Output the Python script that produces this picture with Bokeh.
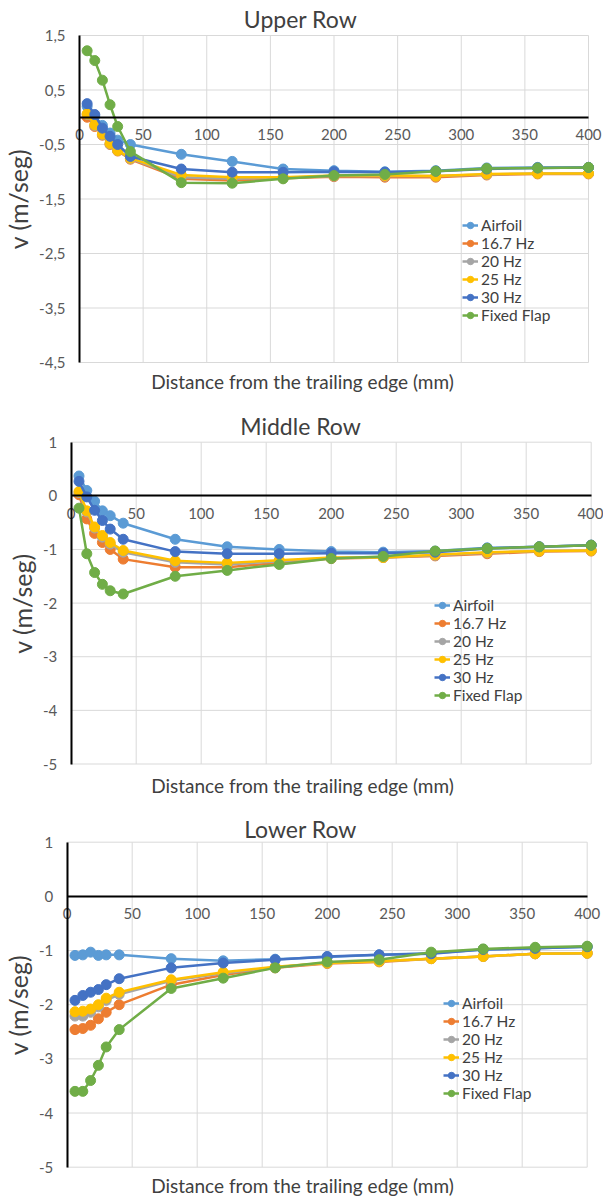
from bokeh.plotting import figure
from bokeh.layouts import column
from bokeh.models import (Range1d, LinearAxis, FixedTicker, Legend,
                          LegendItem, Label)
from bokeh.embed import file_html
from bokeh.resources import INLINE

# Distance from the trailing edge (mm)
distance = [6, 12, 18, 24, 30, 40, 80, 120, 160, 200, 240, 280, 320, 360, 400]

series_names = ["Airfoil", "16.7 Hz", "20 Hz", "25 Hz", "30 Hz", "Fixed Flap"]
series_colors = ["#5B9BD5", "#ED7D31", "#A5A5A5", "#FFC000", "#4472C4", "#70AD47"]

x_ticks = [0, 50, 100, 150, 200, 250, 300, 350, 400]

# Upper row, v (m/s)
upper_airfoil = [0.20, 0.02, -0.15, -0.29, -0.42, -0.50, -0.68, -0.81, -0.95, -0.98, -1.00, -0.98, -0.93, -0.92, -0.92]
upper_167hz = [0.00, -0.17, -0.33, -0.50, -0.62, -0.77, -1.13, -1.16, -1.12, -1.09, -1.10, -1.10, -1.06, -1.04, -1.04]
upper_20hz = [0.05, -0.15, -0.32, -0.49, -0.61, -0.76, -1.10, -1.13, -1.11, -1.08, -1.08, -1.08, -1.05, -1.03, -1.03]
upper_25hz = [0.06, -0.14, -0.31, -0.48, -0.61, -0.75, -1.06, -1.10, -1.10, -1.07, -1.07, -1.08, -1.04, -1.03, -1.03]
upper_30hz = [0.25, 0.05, -0.20, -0.35, -0.50, -0.72, -0.95, -1.01, -1.01, -1.00, -1.01, -0.99, -0.95, -0.93, -0.92]
upper_fixed = [1.22, 1.04, 0.68, 0.23, -0.17, -0.63, -1.20, -1.21, -1.13, -1.07, -1.05, -0.99, -0.94, -0.93, -0.92]
upper_y_ticks = [-4.5, -3.5, -2.5, -1.5, -0.5, 0.5, 1.5]
upper_y_labels = ["-4,5", "-3,5", "-2,5", "-1,5", "-0,5", "0,5", "1,5"]

# Middle row, v (m/s)
middle_airfoil = [0.37, 0.10, -0.10, -0.28, -0.37, -0.51, -0.81, -0.95, -1.00, -1.04, -1.05, -1.03, -0.97, -0.95, -0.92]
middle_167hz = [0.02, -0.43, -0.70, -0.87, -1.00, -1.18, -1.33, -1.33, -1.25, -1.17, -1.15, -1.12, -1.08, -1.04, -1.03]
middle_20hz = [0.06, -0.30, -0.60, -0.77, -0.90, -1.05, -1.24, -1.28, -1.22, -1.16, -1.15, -1.11, -1.06, -1.03, -1.02]
middle_25hz = [0.08, -0.28, -0.58, -0.74, -0.87, -1.02, -1.21, -1.25, -1.20, -1.15, -1.15, -1.10, -1.05, -1.03, -1.02]
middle_30hz = [0.27, -0.02, -0.27, -0.46, -0.62, -0.81, -1.04, -1.08, -1.08, -1.07, -1.07, -1.05, -0.98, -0.95, -0.92]
middle_fixed = [-0.23, -1.08, -1.43, -1.65, -1.77, -1.83, -1.50, -1.39, -1.28, -1.17, -1.13, -1.03, -0.98, -0.95, -0.92]

# Lower row, v (m/s)
lower_airfoil = [-1.09, -1.08, -1.03, -1.09, -1.08, -1.08, -1.15, -1.19, -1.16, -1.12, -1.08, -1.05, -0.98, -0.96, -0.93]
lower_167hz = [-2.46, -2.44, -2.38, -2.26, -2.14, -2.00, -1.63, -1.45, -1.32, -1.24, -1.21, -1.15, -1.11, -1.06, -1.05]
lower_20hz = [-2.21, -2.21, -2.14, -2.04, -1.92, -1.81, -1.56, -1.42, -1.31, -1.23, -1.20, -1.15, -1.11, -1.06, -1.05]
lower_25hz = [-2.13, -2.12, -2.08, -2.00, -1.88, -1.77, -1.54, -1.40, -1.30, -1.23, -1.20, -1.15, -1.11, -1.06, -1.05]
lower_30hz = [-1.92, -1.83, -1.77, -1.72, -1.63, -1.52, -1.32, -1.23, -1.17, -1.11, -1.08, -1.06, -0.98, -0.96, -0.93]
lower_fixed = [-3.60, -3.60, -3.40, -3.12, -2.78, -2.46, -1.70, -1.51, -1.32, -1.21, -1.17, -1.03, -0.97, -0.94, -0.92]

int_y_ticks = [-5, -4, -3, -2, -1, 0, 1]
int_y_labels = ["-5", "-4", "-3", "-2", "-1", "0", "1"]

FONT = "Lato"
TEXT = "#404040"
TICK_TEXT = "#595959"
GRID = "#D9D9D9"
WIDTH = 603


def padded_range(lo, hi, lo_px, hi_px, total_px):
    """Range whose [lo, hi] part lands on pixels [lo_px, hi_px] of a canvas total_px long."""
    per_px = (hi - lo) / (hi_px - lo_px)
    return Range1d(lo - lo_px * per_px, hi + (total_px - hi_px) * per_px)


def make_panel(title, series, y_lim, y_ticks, y_labels, height, area,
               legend_pos, title_y, xtitle_y):
    left, right, top, bottom = area          # pixel box of the plotting area
    y_min, y_max = y_lim
    p = figure(width=WIDTH, height=height, output_backend="svg", toolbar_location=None,
               x_range=padded_range(0, 400, left, right, WIDTH),
               y_range=padded_range(y_min, y_max, height - bottom, height - top, height),
               x_axis_location=None, y_axis_location=None,
               min_border=0, min_border_left=0, min_border_right=0,
               min_border_top=0, min_border_bottom=0)
    p.grid.visible = False
    p.outline_line_color = None
    p.background_fill_color = "white"
    p.border_fill_color = "white"

    # light grid limited to the plotting area
    p.segment(x0=x_ticks, y0=[y_min] * len(x_ticks), x1=x_ticks, y1=[y_max] * len(x_ticks),
              line_color=GRID, line_width=1)
    p.segment(x0=[0] * len(y_ticks), y0=y_ticks, x1=[400] * len(y_ticks), y1=y_ticks,
              line_color=GRID, line_width=1)

    # value axis at distance 0
    yaxis = LinearAxis(ticker=FixedTicker(ticks=y_ticks), fixed_location=0,
                       bounds=(y_min, y_max),
                       major_label_overrides=dict(zip(y_ticks, y_labels)),
                       axis_line_color="black", axis_line_width=2,
                       major_tick_in=0, major_tick_out=0,
                       minor_tick_in=0, minor_tick_out=0,
                       major_label_standoff=14,
                       major_label_text_font=FONT, major_label_text_font_size="15px",
                       major_label_text_color=TICK_TEXT,
                       axis_label="v (m/seg)", axis_label_standoff=3,
                       axis_label_text_font=FONT, axis_label_text_font_size="25px",
                       axis_label_text_font_style="normal",
                       axis_label_text_color=TEXT)
    p.add_layout(yaxis, "left")

    # distance axis crossing at v = 0
    xaxis = LinearAxis(ticker=FixedTicker(ticks=x_ticks), fixed_location=0,
                       bounds=(0, 400),
                       axis_line_color="black", axis_line_width=2,
                       major_tick_in=0, major_tick_out=0,
                       minor_tick_in=0, minor_tick_out=0,
                       major_label_standoff=12,
                       major_label_text_font=FONT, major_label_text_font_size="15px",
                       major_label_text_color=TICK_TEXT)
    p.add_layout(xaxis, "below")

    items = []
    for name, color, values in zip(series_names, series_colors, series):
        ln = p.line(distance, values, line_color=color, line_width=2.5)
        dots = p.scatter(distance, values, size=10, fill_color=color, line_color=color)
        items.append(LegendItem(label=name, renderers=[ln, dots]))

    legend = Legend(items=items, location=legend_pos,
                    background_fill_alpha=0, border_line_color=None,
                    label_text_font=FONT, label_text_font_size="15.5px",
                    label_text_color=TEXT, glyph_width=16, glyph_height=18,
                    label_height=18, spacing=0, padding=0, margin=0,
                    label_standoff=3)
    p.add_layout(legend, "center")

    p.add_layout(Label(x=300, y=height - title_y, x_units="screen", y_units="screen",
                       text=title, text_align="center", text_baseline="middle",
                       text_font=FONT, text_font_size="23px", text_color=TEXT))
    p.add_layout(Label(x=302, y=height - xtitle_y, x_units="screen", y_units="screen",
                       text="Distance from the trailing edge (mm)",
                       text_align="center", text_baseline="middle",
                       text_font=FONT, text_font_size="19px", text_color=TEXT))
    return p


upper = make_panel("Upper Row",
                   [upper_airfoil, upper_167hz, upper_20hz, upper_25hz, upper_30hz, upper_fixed],
                   (-4.5, 1.5), upper_y_ticks, upper_y_labels, 400, (79, 588, 35, 362),
                   (462, 76), 18, 381)
middle = make_panel("Middle Row",
                    [middle_airfoil, middle_167hz, middle_20hz, middle_25hz, middle_30hz, middle_fixed],
                    (-5, 1), int_y_ticks, int_y_labels, 405, (70.7, 590.7, 41.7, 363.5),
                    (434, 101), 25, 385)
lower = make_panel("Lower Row",
                   [lower_airfoil, lower_167hz, lower_20hz, lower_25hz, lower_30hz, lower_fixed],
                   (-5, 1), int_y_ticks, int_y_labels, 395, (66.7, 586.7, 36.7, 361.7),
                   (443, 98), 23, 380)

layout = column(upper, middle, lower, spacing=0)
open("out.html", "w").write(file_html(layout, INLINE))
